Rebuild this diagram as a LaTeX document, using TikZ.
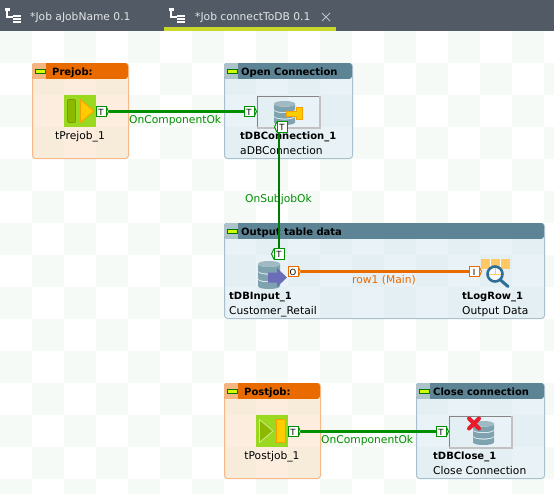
\documentclass[tikz,border=0pt]{standalone}
\usepackage{fontspec}
\setmainfont{DejaVu Sans}
\definecolor{cklight}{HTML}{F5FAF7}
\definecolor{topbar}{HTML}{525B65}
\definecolor{tabline}{HTML}{C8D92B}
\definecolor{tabtxt}{HTML}{E2E5E8}
\definecolor{okgreen}{HTML}{008F00}
\definecolor{darkgreen}{HTML}{007A00}
\definecolor{roworange}{HTML}{E96B00}
\definecolor{orhead}{HTML}{E96B00}
\definecolor{orfill}{HTML}{FBD9B8}
\definecolor{orline}{HTML}{F8B98A}
\definecolor{blhead}{HTML}{5C8494}
\definecolor{blfill}{HTML}{CFE3EE}
\definecolor{blline}{HTML}{A9C1CE}
\definecolor{dbc}{HTML}{7FA3AE}
\definecolor{iconbox}{HTML}{C2C2C2}
\definecolor{iconedge}{HTML}{858585}
\definecolor{limeb}{HTML}{9BD820}
\definecolor{barg}{HTML}{8DB800}
\definecolor{yel}{HTML}{FFCC00}
\definecolor{yelb}{HTML}{F7A000}
\definecolor{arrowb}{HTML}{6B6DB8}
\definecolor{lensb}{HTML}{2E6E99}
\definecolor{cellor}{HTML}{FFC864}
\definecolor{xred}{HTML}{E81C2C}
\newcommand{\regf}{\fontsize{10.7}{13}\selectfont}
\newcommand{\bldf}{\fontsize{10}{13}\selectfont\bfseries}
\tikzset{
  txt/.style={inner sep=0pt,anchor=base west,font=\regf,text=black},
  txtc/.style={inner sep=0pt,anchor=base,font=\regf,text=black},
  bld/.style={inner sep=0pt,anchor=base west,font=\bldf,text=black},
  tab/.style={inner sep=0pt,anchor=base west,font=\regf,text=tabtxt},
  link/.style={inner sep=0pt,anchor=base west,font=\regf,text=okgreen},
  portnode/.style={rectangle,draw=#1,fill=white,line width=1pt,inner sep=0pt,
    minimum width=10pt,minimum height=10.5pt,text height=7pt,text depth=0pt,
    font=\fontsize{8.5}{9}\selectfont,text=black},
  portbulge/.style={draw=#1,fill=white,line width=1pt,line join=round},
  okline/.style={draw=okgreen,line width=2.2pt},
  subline/.style={draw=darkgreen,line width=2.2pt},
  rowline/.style={draw=roworange,line width=2.2pt},
  boxframe/.style={inner sep=0pt,anchor=north west,rounded corners=3pt,line width=1pt},
  iconframe/.style={inner sep=0pt,anchor=north west,minimum width=63pt,minimum height=32pt,draw=iconedge,line width=.8pt},
  minusbox/.style={draw=black!55!green,fill=lime!70!yellow,line width=.6pt},
}
% colour, name, x, y, text: port with its bulge on the right
\newcommand{\portright}[5]{%
  \draw[portbulge=#1] (#3+5,#4-5.25) -- ++(2.5,5.25) -- ++(-2.5,5.25);
  \node[portnode=#1] (#2) at (#3,#4) {#5};
}
% colour, name, x, y, text: port with its bulge on the left
\newcommand{\portleft}[5]{%
  \draw[portbulge=#1] (#3-5,#4-5.25) -- ++(-2.5,5.25) -- ++(2.5,5.25);
  \node[portnode=#1] (#2) at (#3,#4) {#5};
}
% name, x, y, w, h, fill, line, head
\newcommand{\subjob}[8]{%
  \node[boxframe,draw=#7,fill=#6,fill opacity=.45,minimum width=#4pt,minimum height=#5pt] (#1) at (#2,#3) {};
  \begin{scope}
    \clip[rounded corners=3pt] (#2,#3) rectangle ++(#4,16);
    \fill[#8] (#2,#3) rectangle ++(#4,16);
    \fill[#8!50!white] (#2,#3) rectangle ++(14,16);
  \end{scope}
  \fill[minusbox] (#2+3,#3+6) rectangle ++(10,4);
}
% centre x, top y, half width, total height
\newcommand{\dbcyl}[4]{%
  \pgfmathsetmacro{\dbcurve}{#3*.36}
  \pgfmathsetmacro{\dbband}{(#4-2*\dbcurve*.75-2)/3}
  \foreach \dbk in {2,1,0}{
    \pgfmathsetmacro{\dbt}{#2+\dbcurve*.75+\dbk*(\dbband+1)}
    \fill[dbc] (#1-#3,\dbt) -- (#1-#3,\dbt+\dbband)
       .. controls (#1-#3,\dbt+\dbband+\dbcurve) and (#1+#3,\dbt+\dbband+\dbcurve) .. (#1+#3,\dbt+\dbband)
       -- (#1+#3,\dbt)
       .. controls (#1+#3,\dbt+\dbcurve) and (#1-#3,\dbt+\dbcurve) .. (#1-#3,\dbt) -- cycle;
  }
  \pgfmathsetmacro{\dbm}{#2+\dbcurve*.75}
  \fill[dbc!75!white] (#1-#3,\dbm)
     .. controls (#1-#3,\dbm-\dbcurve) and (#1+#3,\dbm-\dbcurve) .. (#1+#3,\dbm)
     .. controls (#1+#3,\dbm+\dbcurve) and (#1-#3,\dbm+\dbcurve) .. (#1-#3,\dbm) -- cycle;
}
% x, y of the top-left corner of an icon frame: light lower and right edges
\newcommand{\frameedge}[2]{%
  \draw[iconbox,line width=2pt] (#1+63,#2) -- (#1+63,#2+32) -- (#1,#2+32);
}
\begin{document}
\begin{tikzpicture}[x=1pt,y=-1pt]
\useasboundingbox (0,0) rectangle (554,493);
\fill[white] (0,0) rectangle (554,493);
% checkerboard
\foreach \i in {0,...,17}{\foreach \k in {0,...,14}{
  \pgfmathtruncatemacro{\ckodd}{mod(\i+\k,2)}
  \ifnum\ckodd=0 \fill[cklight] (32*\i,31+32*\k) rectangle ++(32,32);\fi
}}
% top bar
\fill[topbar] (0,0) rectangle (554,31);
\fill[tabline] (164,27) rectangle (336,31);
\foreach \tx in {5,169}{
  \draw[white,line width=1.2pt] (\tx+2,9) -- (\tx+2,17) -- (\tx+8,17);
  \fill[white] (\tx,8) rectangle ++(4.5,3);
  \foreach \ty in {15,17.8,20.6}{\fill[white] (\tx+8,\ty) rectangle ++(8,2.2);}
}
\node[tab] (tabone) at (30,20) {*Job aJobName 0.1};
\node[tab] (tabtwo) at (195,20) {*Job connectToDB 0.1};
\draw[tabtxt!75!topbar,line width=.8pt] (322,13) -- (330,21) (330,13) -- (322,21);
% subjobs
\subjob{prejobbox}{32}{63}{96}{95}{orfill}{orline}{orhead}
\subjob{openbox}{224}{63}{128}{95}{blfill}{blline}{blhead}
\subjob{outputbox}{224}{223}{320}{95}{blfill}{blline}{blhead}
\subjob{postjobbox}{224}{383}{96}{95}{orfill}{orline}{orhead}
\subjob{closebox}{416}{383}{128}{95}{blfill}{blline}{blhead}
\node[bld] (prejobtitle) at (52,75) {Prejob:};
\node[bld] (opentitle) at (241,75) {Open Connection};
\node[bld] (outputtitle) at (241,235) {Output table data};
\node[bld] (postjobtitle) at (244,395) {Postjob:};
\node[bld] (closetitle) at (433,395) {Close connection};
% tPrejob icon
\fill[limeb] (64,95) rectangle (96,127);
\fill[barg,draw=barg!85!black,line width=.6pt,rounded corners=1pt] (67.5,99.5) rectangle (75.5,122.5);
\fill[yel,draw=yelb,line width=.8pt,line join=round] (80.5,99.5) -- (94,111) -- (80.5,122.5) -- cycle;
% tDBConnection icon
\node[iconframe] (connicon) at (256.5,95.5) {};
\frameedge{256.5}{95.5}
\dbcyl{284.5}{101}{10.5}{24}
\fill[yel,draw=yelb,line width=.6pt] (286,111.5) -- (296,111.5) -- (296,107.5) -- (302,107.5) -- (302,119) -- (296,119) -- (296,116.5) -- (290,116.5) -- (286,116.5) -- cycle;
% tDBInput icon
\dbcyl{269}{261}{11}{28}
\fill[arrowb] (268,272.5) -- (277,272.5) -- (277,268) -- (287,277.5) -- (277,287) -- (277,282.5) -- (268,282.5) -- cycle;
% tLogRow icon
\fill[cellor] (481,259) rectangle (510,269);
\draw[white,line width=.5pt] (490.5,259) -- (490.5,269) (500,259) -- (500,269);
\fill[white,fill opacity=.7] (495,274) circle[radius=7];
\draw[cellor,line width=.7pt] (488,274) -- (502,274) (495,267) -- (495,274);
\draw[lensb,line width=2.6pt] (495,274) circle[radius=7.5];
\draw[lensb,line width=3pt,line cap=round] (500.5,280) -- (508,286.5);
% tPostjob icon
\fill[limeb] (256,415) rectangle (288,447);
\fill[barg,draw=limeb!50!white,line width=.8pt,line join=round] (259.5,419.5) -- (273,431) -- (259.5,442.5) -- cycle;
\fill[yel,draw=yelb,line width=.7pt] (276.5,419.5) rectangle (285,442.5);
% tDBClose icon
\node[iconframe] (closeicon) at (448.5,415.5) {};
\frameedge{448.5}{415.5}
\dbcyl{483.5}{421}{10.5}{24}
\draw[xred,line width=4pt,line cap=round] (469,418.5) -- (479,428.5) (479,418.5) -- (469,428.5);
% labels
\node[txtc] (prejoblabel) at (80,139) {tPrejob\_1};
\node[bld] (connlabel) at (240,139) {tDBConnection\_1};
\node[txt] (connsub) at (240,154) {aDBConnection};
\node[bld] (inputlabel) at (229,299) {tDBInput\_1};
\node[txt] (inputsub) at (229,314) {Customer\_Retail};
\node[bld] (loglabel) at (462,299) {tLogRow\_1};
\node[txt] (logsub) at (462,314) {Output Data};
\node[txtc] (postlabel) at (272,459) {tPostjob\_1};
\node[bld] (closelabel) at (433,459) {tDBClose\_1};
\node[txt] (closesub) at (433,474) {Close Connection};
\node[link] (lblone) at (129,123) {OnComponentOk};
\node[link] (lblsub) at (245,202) {OnSubjobOk};
\node[inner sep=0pt,anchor=base west,font=\regf,text=roworange] (lblrow) at (352,283) {row1 (Main)};
\node[link] (lbltwo) at (321,443) {OnComponentOk};
% ports
\portright{okgreen}{pA}{101}{111.5}{T}
\portright{okgreen}{pB}{249}{111.5}{T}
\portleft{okgreen}{pC}{282}{127}{T}
\portleft{okgreen}{pD}{279}{254}{T}
\portright{roworange}{pE}{293}{271.5}{O}
\portright{roworange}{pF}{474}{271.5}{I}
\portright{okgreen}{pG}{293}{431.5}{T}
\portright{okgreen}{pH}{441}{431.5}{T}
% connectors
\draw[okline] ([xshift=2pt]pA.east) -- (pB.west);
\draw[subline] (pD.north |- pC.south) -- (pD.north);
\draw[rowline] ([xshift=2pt]pE.east) -- (pF.west);
\draw[okline] ([xshift=2pt]pG.east) -- (pH.west);
\end{tikzpicture}
\end{document}
